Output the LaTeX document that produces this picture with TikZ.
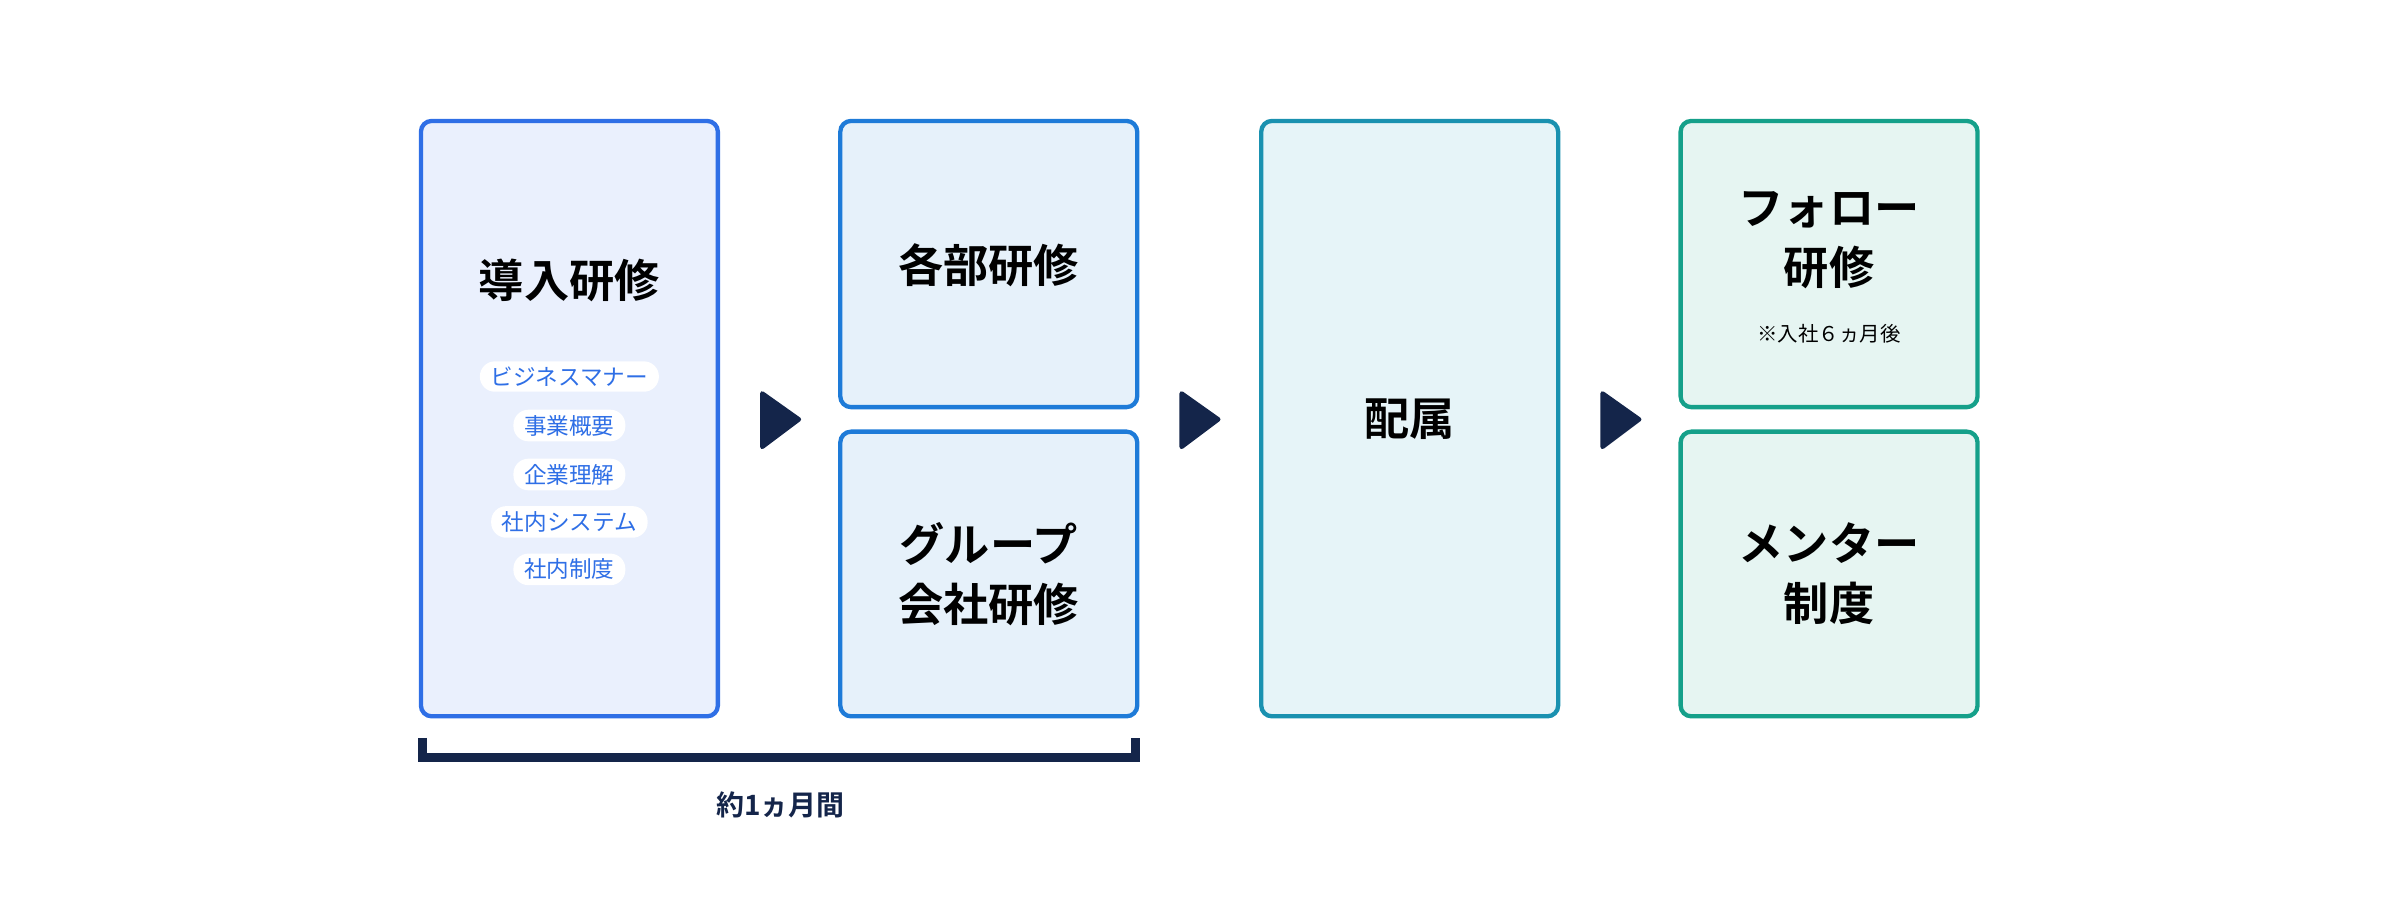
\documentclass[tikz,border=0pt]{standalone}
\usepackage{fontspec}
\setmainfont{Noto Sans CJK JP}
\newfontfamily\jpbold{Noto Sans CJK JP Bold}
\definecolor{navy}{HTML}{14254A}
\definecolor{lineA}{HTML}{2F6FE6}
\definecolor{fillA}{HTML}{EAF0FD}
\definecolor{lineB}{HTML}{1E7BD8}
\definecolor{fillB}{HTML}{E6F1FA}
\definecolor{lineC}{HTML}{1A91B0}
\definecolor{fillC}{HTML}{E6F4F8}
\definecolor{lineD}{HTML}{15A08A}
\definecolor{fillD}{HTML}{E6F5F2}
\usetikzlibrary{positioning}
\begin{document}
\begin{tikzpicture}[x=0.025cm,y=-0.025cm,
  stagebox/.style={draw=#1,line width=2pt,rounded corners=5pt},
  titletext/.style={font=\jpbold\fontsize{21}{28}\selectfont,align=center,text=black},
  pill/.style={fill=white,rounded corners=7pt,text=lineA,font=\fontsize{10.5}{12}\selectfont,inner xsep=5pt,inner ysep=2.5pt},
  nexttip/.style={fill=navy,draw=navy,line width=2pt,line join=round},
  ]
  \useasboundingbox (0,0) rectangle (1568,593);
  %Boxes
  \draw[stagebox=lineA,fill=fillA] (275,79) rectangle (469,468);
  \draw[stagebox=lineB,fill=fillB] (549,79) rectangle (743,266);
  \draw[stagebox=lineB,fill=fillB] (549,282) rectangle (743,468);
  \draw[stagebox=lineC,fill=fillC] (824,79) rectangle (1018,468);
  \draw[stagebox=lineD,fill=fillD] (1098,79) rectangle (1292,266);
  \draw[stagebox=lineD,fill=fillD] (1098,282) rectangle (1292,468);
  %Titles
  \node[titletext] (intro) at (372,183) {導入研修};
  \node[titletext] (dept) at (646,173) {各部研修};
  \node[titletext] (group) at (646,375) {グループ\\会社研修};
  \node[titletext] (assign) at (921,274) {配属};
  \node[titletext] (follow) at (1195,157) {フォロー\\研修};
  \node[font=\fontsize{9.5}{11}\selectfont] (note) at (1195,218) {※入社６ヵ月後};
  \node[titletext] (mentor) at (1195,375) {メンター\\制度};
  %Pills
  \foreach \txt/\yy [count=\i] in {ビジネスマナー/246,事業概要/278,企業理解/310,社内システム/341,社内制度/372}
    \node[pill] (p\i) at (372,\yy) {\txt};
  %Arrows
  \foreach \xx [count=\i] in {497,771,1046}
    \draw[nexttip] (\xx+1,257) -- (\xx+25,274) -- (\xx+1,292) -- cycle;
  %Bracket
  \coordinate (bl) at (276,482);
  \coordinate (br) at (742,482);
  \draw[navy,line width=4pt] (bl) -- ++(0,13) -| (br);
  \node[font=\jpbold\fontsize{13}{15}\selectfont,text=navy] (span) at (510,526) {約1ヵ月間};
\end{tikzpicture}
\end{document}
